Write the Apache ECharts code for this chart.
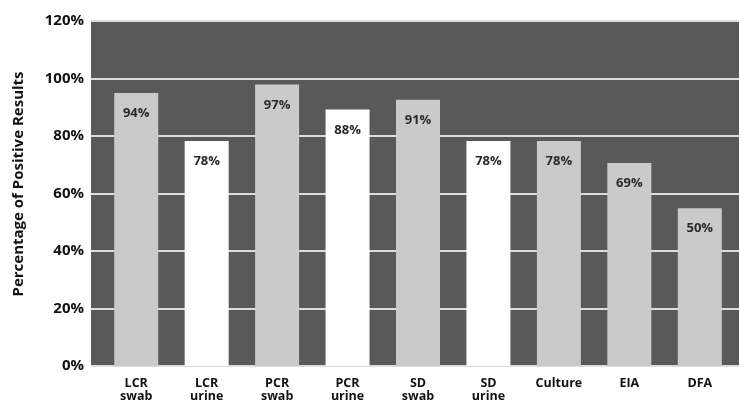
<!DOCTYPE html>
<html><head><meta charset="utf-8">
<script src="https://cdn.jsdelivr.net/npm/echarts@6/dist/echarts.min.js"></script>
<style>html,body{margin:0;padding:0;background:#fff}#c{width:739px;height:403px}</style>
</head><body><div id="c"></div>
<script>
const categories = ['LCR\nswab','LCR\nurine','PCR\nswab','PCR\nurine','SD\nswab','SD\nurine','Culture','EIA','DFA'];
const values = [95, 78.3, 97.9, 89.2, 92.6, 78.3, 78.3, 70.6, 54.9];
const labels = ['94%','78%','97%','88%','91%','78%','78%','69%','50%'];
const barColors = ['#cacaca','#ffffff','#cacaca','#ffffff','#cacaca','#ffffff','#cacaca','#cacaca','#cacaca'];
const yTicks = [0,20,40,60,80,100,120];

const FONT = 'Open Sans';
const chart = echarts.init(document.getElementById('c'));
chart.setOption({
  animation:false,
  textStyle:{fontFamily:FONT},
  grid:[
    {left:91, right:0, top:21, bottom:37, show:true, backgroundColor:'#595959', borderWidth:0, containLabel:false},
    {left:101, width:634, top:21, bottom:37, containLabel:false}
  ],
  xAxis:[
    {gridIndex:0, type:'value', min:0, max:1, show:false},
    {gridIndex:1, type:'category', data:categories,
      axisLine:{show:false}, axisTick:{show:false},
      axisLabel:{interval:0, margin:11, color:'#111', fontWeight:'bold', fontSize:12.5, lineHeight:13, fontFamily:FONT}}
  ],
  yAxis:[
    {gridIndex:0, type:'value', min:0, max:120, interval:20,
      axisLine:{show:false}, axisTick:{show:false},
      splitLine:{show:true, lineStyle:{color:'#dcdcdc', width:2}},
      axisLabel:{formatter:v=>v+'%', color:'#111', fontWeight:'bold', fontSize:15, margin:7, fontFamily:FONT}},
    {gridIndex:1, type:'value', min:0, max:120, interval:20, show:false}
  ],
  graphic:[{type:'text', rotation:Math.PI/2, x:19, y:184,
    style:{text:'Percentage of Positive Results', fill:'#111', font:'bold 15px "Open Sans"', align:'center', verticalAlign:'middle'}}],
  series:[{
    type:'bar', xAxisIndex:1, yAxisIndex:1, barWidth:44,
    data: values.map((v,i)=>({value:v, itemStyle:{color:barColors[i]}})),
    label:{show:true, position:'insideTop', distance:14, color:'#2a2a2a', fontWeight:'bold', fontSize:13, fontFamily:FONT,
      formatter:p=>labels[p.dataIndex]}
  }]
});
</script></body></html>
